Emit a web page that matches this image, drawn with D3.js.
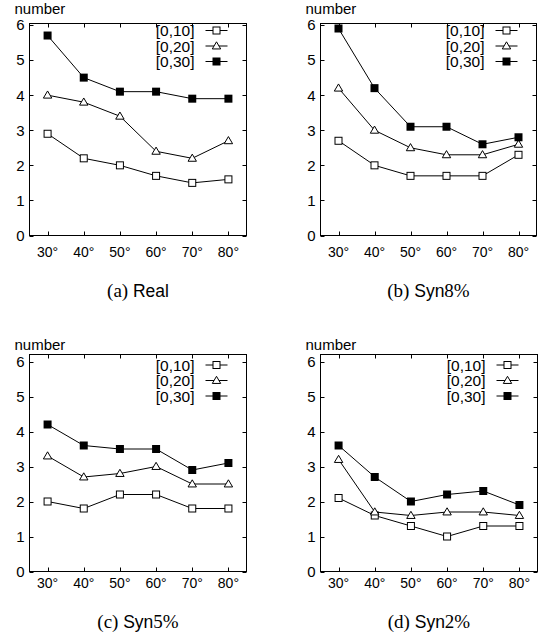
<!DOCTYPE html>
<html>
<head>
<meta charset="utf-8">
<script src="https://cdn.jsdelivr.net/npm/d3@7"></script>
<style>
  html, body { margin: 0; padding: 0; background: #fff; }
  svg { display: block; }
</style>
</head>
<body>
<svg id="chart" width="540" height="640"></svg>
<script>
// ---------- data ----------
const categories = ["30°", "40°", "50°", "60°", "70°", "80°"];
const seriesNames = ["[0,10]", "[0,20]", "[0,30]"];
const yTicks = [0, 1, 2, 3, 4, 5, 6];

const real_0_10 = [2.9, 2.2, 2.0, 1.7, 1.5, 1.6];
const real_0_20 = [4.0, 3.8, 3.4, 2.4, 2.2, 2.7];
const real_0_30 = [5.7, 4.5, 4.1, 4.1, 3.9, 3.9];

const syn8_0_10 = [2.7, 2.0, 1.7, 1.7, 1.7, 2.3];
const syn8_0_20 = [4.2, 3.0, 2.5, 2.3, 2.3, 2.6];
const syn8_0_30 = [5.9, 4.2, 3.1, 3.1, 2.6, 2.8];

const syn5_0_10 = [2.0, 1.8, 2.2, 2.2, 1.8, 1.8];
const syn5_0_20 = [3.3, 2.7, 2.8, 3.0, 2.5, 2.5];
const syn5_0_30 = [4.2, 3.6, 3.5, 3.5, 2.9, 3.1];

const syn2_0_10 = [2.1, 1.6, 1.3, 1.0, 1.3, 1.3];
const syn2_0_20 = [3.2, 1.7, 1.6, 1.7, 1.7, 1.6];
const syn2_0_30 = [3.6, 2.7, 2.0, 2.2, 2.3, 1.9];

const captionTags = ["(a)", "(b)", "(c)", "(d)"];
const captionNames = ["Real", "Syn", "Syn", "Syn"];
const captionPcts = ["", "8%", "5%", "2%"];
const yAxisTitle = "number";

// ---------- layout ----------
const panels = [
  { data: [real_0_10, real_0_20, real_0_30], left: 29.5, right: 246.5, top: 23.5, y0: 235.5, y6: 25, xlabY: 257, capY: 297, legY: 30.5, titleY: 14 },
  { data: [syn8_0_10, syn8_0_20, syn8_0_30], left: 320.5, right: 536.5, top: 23.5, y0: 235.5, y6: 25, xlabY: 257, capY: 297, legY: 30.5, titleY: 14 },
  { data: [syn5_0_10, syn5_0_20, syn5_0_30], left: 29.5, right: 246.5, top: 354.5, y0: 571.5, y6: 361.5, xlabY: 588, capY: 628, legY: 365, titleY: 350 },
  { data: [syn2_0_10, syn2_0_20, syn2_0_30], left: 320.5, right: 537.5, top: 354.5, y0: 571.5, y6: 361.5, xlabY: 588, capY: 628, legY: 365, titleY: 350 }
];

const svg = d3.select("#chart");
const sansFont = "'Liberation Sans', Arial, Helvetica, sans-serif";
const serifFont = "'Liberation Serif', 'DejaVu Serif', serif";
const tickLen = 4;

function drawMarker(g, type, x, y) {
  if (type === 0) {
    g.append("rect").attr("x", x - 3.5).attr("y", y - 3.5).attr("width", 7).attr("height", 7)
      .attr("fill", "#fff").attr("stroke", "#000").attr("stroke-width", 1);
  } else if (type === 1) {
    const s = 4.2;
    g.append("path")
      .attr("d", `M${x},${y - s}L${x + s},${y + s * 0.7}L${x - s},${y + s * 0.7}Z`)
      .attr("fill", "#fff").attr("stroke", "#000").attr("stroke-width", 1);
  } else {
    g.append("rect").attr("x", x - 4).attr("y", y - 4).attr("width", 8).attr("height", 8)
      .attr("fill", "#000");
  }
}

panels.forEach((p, pi) => {
  const g = svg.append("g");
  const x = d3.scalePoint().domain(categories).range([p.left, p.right]).padding(0.5);
  const y = d3.scaleLinear().domain([0, 6]).range([p.y0, p.y6]);

  // frame
  g.append("rect").attr("x", p.left).attr("y", p.top)
    .attr("width", p.right - p.left).attr("height", p.y0 - p.top)
    .attr("fill", "none").attr("stroke", "#000").attr("stroke-width", 1);

  // y ticks (inward, mirrored)
  yTicks.forEach(t => {
    const yy = Math.round(y(t)) + 0.5;
    g.append("line").attr("x1", p.left).attr("x2", p.left + tickLen).attr("y1", yy).attr("y2", yy).attr("stroke", "#000");
    g.append("line").attr("x1", p.right).attr("x2", p.right - tickLen).attr("y1", yy).attr("y2", yy).attr("stroke", "#000");
    g.append("text").attr("x", p.left - 5).attr("y", y(t)).attr("dy", "0.36em")
      .attr("text-anchor", "end").attr("font-family", sansFont).attr("font-size", 15)
      .text(t);
  });

  // x ticks (inward, mirrored)
  categories.forEach(c => {
    const xx = Math.round(x(c)) + 0.5;
    g.append("line").attr("x1", xx).attr("x2", xx).attr("y1", p.y0).attr("y2", p.y0 - tickLen).attr("stroke", "#000");
    g.append("line").attr("x1", xx).attr("x2", xx).attr("y1", p.top).attr("y2", p.top + tickLen).attr("stroke", "#000");
    g.append("text").attr("x", x(c)).attr("y", p.xlabY)
      .attr("text-anchor", "middle").attr("font-family", sansFont).attr("font-size", 14)
      .text(c);
  });

  // axis title
  g.append("text").attr("x", p.left - 15).attr("y", p.titleY)
    .attr("font-family", sansFont).attr("font-size", 15).text(yAxisTitle);

  // series
  const line = d3.line().x((d, i) => x(categories[i])).y(d => y(d));
  p.data.forEach((vals, si) => {
    g.append("path").attr("d", line(vals)).attr("fill", "none")
      .attr("stroke", "#000").attr("stroke-width", 1);
    vals.forEach((v, i) => drawMarker(g, si, x(categories[i]), y(v)));
  });

  // legend
  seriesNames.forEach((name, si) => {
    const ly = p.legY + si * 15.5;
    g.append("text").attr("x", p.right - 52).attr("y", ly).attr("dy", "0.36em")
      .attr("text-anchor", "end").attr("font-family", sansFont).attr("font-size", 15.5)
      .text(name);
    g.append("line").attr("x1", p.right - 41).attr("x2", p.right - 19)
      .attr("y1", ly).attr("y2", ly).attr("stroke", "#000").attr("stroke-width", 1);
    drawMarker(g, si, p.right - 30, ly);
  });

  // caption
  const cx = (p.left + p.right) / 2;
  const cap = g.append("text").attr("x", cx).attr("y", p.capY)
    .attr("text-anchor", "middle").attr("font-size", 19);
  cap.append("tspan").attr("font-family", serifFont).text(captionTags[pi] + " ");
  cap.append("tspan").attr("font-family", sansFont).attr("font-size", 17.5).text(captionNames[pi]);
  if (captionPcts[pi]) cap.append("tspan").attr("font-family", serifFont).text(captionPcts[pi]);
});
</script>
</body>
</html>
